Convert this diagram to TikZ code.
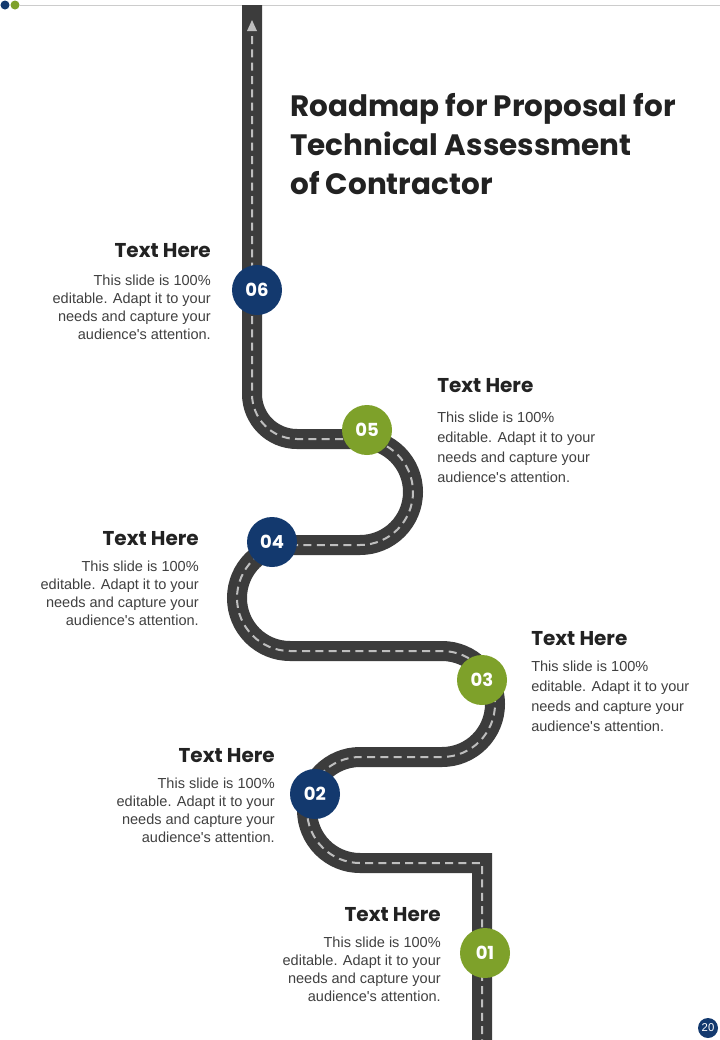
\documentclass[tikz,border=0pt]{standalone}
\usepackage{fontspec}
\setmainfont{Liberation Sans}
\newfontfamily\headfont{Poppins}
\definecolor{navy}{RGB}{19,57,110}
\definecolor{leaf}{RGB}{126,161,42}
\definecolor{road}{RGB}{60,60,60}
\definecolor{dashc}{RGB}{190,190,190}
\definecolor{titlec}{RGB}{34,34,34}
\definecolor{bodyc}{RGB}{64,64,64}
\newcommand{\bodytext}{This slide is 100\%\\editable. Adapt it to your\\needs and capture your\\audience\textquotesingle s attention.}
\tikzset{
  roadline/.style={draw=road, line width=15pt, line join=miter, line cap=butt},
  roaddash/.style={draw=dashc, line width=1.5pt, dash pattern=on 6pt off 4pt},
  stepnum/.style={circle, fill=#1, minimum size=37.5pt, inner sep=0pt, text=white, font=\headfont\bfseries\fontsize{13.5}{14}\selectfont},
  headtxt/.style={inner sep=0pt, text=titlec, font=\headfont\bfseries\fontsize{15}{16}\selectfont},
  bodyL/.style={inner sep=0pt, text=bodyc, align=right, anchor=north east, font=\fontsize{10.9}{13.5}\selectfont},
  bodyR/.style={inner sep=0pt, text=bodyc, align=left, anchor=north west, font=\fontsize{10.9}{15}\selectfont},
}
\begin{document}
\begin{tikzpicture}[x=0.75pt,y=0.75pt]
\useasboundingbox (0,0) rectangle (720,-1040);
\fill[white] (0,0) rectangle (720,-1040);
% top decoration
\draw[black!20, line width=0.75pt] (20,-5) coordinate (tl1) -- (720,-5) coordinate (tl2);
\fill[navy] (5,-5) circle (4.5);
\fill[leaf] (15,-5) circle (4.5);
% road
\path[roadline] (252,-5) -- (252,-394) arc[start angle=180,end angle=270,radius=45] -- (360,-439) arc[start angle=90,end angle=-90,radius=53] -- (290,-545) arc[start angle=90,end angle=270,radius=53] -- (442,-651) arc[start angle=90,end angle=-90,radius=53] -- (360,-757) arc[start angle=90,end angle=270,radius=53] -- (482,-863) -- (482,-1045);
\path[roaddash] (252,-36) -- (252,-394) arc[start angle=180,end angle=270,radius=45] -- (360,-439) arc[start angle=90,end angle=-90,radius=53] -- (290,-545) arc[start angle=90,end angle=270,radius=53] -- (442,-651) arc[start angle=90,end angle=-90,radius=53] -- (360,-757) arc[start angle=90,end angle=270,radius=53] -- (482,-863) -- (482,-1045);
\fill[dashc] (252,-20) -- (257,-31) -- (247,-31) -- cycle;
% title
\node[inner sep=0pt, anchor=north west, align=left, text=titlec, font=\headfont\bfseries\fontsize{22.1}{29.2}\selectfont] (title) at (290,-93) {Roadmap for Proposal for\\Technical Assessment\\of Contractor};
% steps
\node[stepnum=navy] (s6) at (257,-290) {06};
\node[stepnum=leaf] (s5) at (367,-430) {05};
\node[stepnum=navy] (s4) at (272,-542) {04};
\node[stepnum=leaf] (s3) at (482,-680) {03};
\node[stepnum=navy] (s2) at (315,-794) {02};
\node[stepnum=leaf] (s1) at (485,-953) {01};
% texts
\node[headtxt, anchor=base east] (h6) at (211,-257) {Text Here};
\node[bodyL] (b6) at (211,-274.5) {\bodytext};
\node[headtxt, anchor=base west] (h5) at (437,-392) {Text Here};
\node[bodyR] (b5) at (437,-411.5) {\bodytext};
\node[headtxt, anchor=base east] (h4) at (199,-545) {Text Here};
\node[bodyL] (b4) at (199,-560.5) {\bodytext};
\node[headtxt, anchor=base west] (h3) at (531,-645) {Text Here};
\node[bodyR] (b3) at (531,-660.5) {\bodytext};
\node[headtxt, anchor=base east] (h2) at (275,-762) {Text Here};
\node[bodyL] (b2) at (275,-777.5) {\bodytext};
\node[headtxt, anchor=base east] (h1) at (441,-921) {Text Here};
\node[bodyL] (b1) at (441,-936.5) {\bodytext};
% page number
\node[circle, fill=navy, minimum size=15pt, inner sep=0pt, text=white, font=\fontsize{8.5}{9}\selectfont] (pg) at (708,-1028) {20};
\end{tikzpicture}
\end{document}
